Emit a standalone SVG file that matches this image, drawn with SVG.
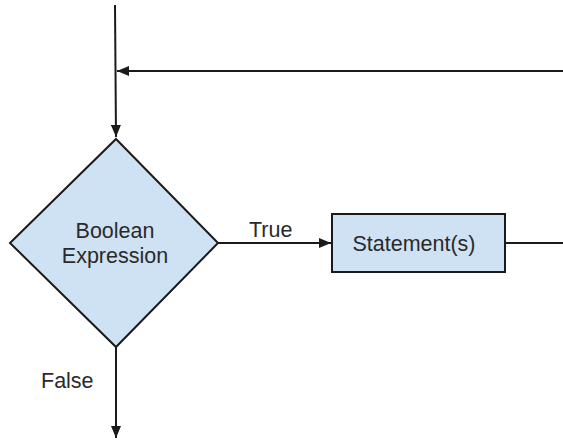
<svg xmlns="http://www.w3.org/2000/svg" width="563" height="442" viewBox="0 0 563 442">
<style>
.shape{fill:#cfe2f3;stroke:#1a1a1a;stroke-width:2}
.line{fill:none;stroke:#1a1a1a;stroke-width:2}
text{font-family:"Liberation Sans",Arial,sans-serif;font-size:21.5px;fill:#2a2a2a}
</style>
<defs>
<marker id="arr" viewBox="0 0 12 10" refX="12" refY="5" markerWidth="12" markerHeight="10" markerUnits="userSpaceOnUse" orient="auto">
<path d="M0,0 L12,5 L0,10 Z" fill="#1a1a1a"/>
</marker>
</defs>
<g id="connectors">
<path class="line" d="M115,5 L116,137" marker-end="url(#arr)"/>
<path class="line" d="M563,71 L117,71" marker-end="url(#arr)"/>
<path class="line" d="M218,243 L331,243" marker-end="url(#arr)"/>
<path class="line" d="M505,243 L563,243"/>
<path class="line" d="M116,347 L116,438" marker-end="url(#arr)"/>
<text x="249" y="237">True</text>
<text x="41" y="388">False</text>
</g>
<g id="decision">
<polygon class="shape" points="116,139 218,243 116,347 10,243"/>
<text x="115" y="238" text-anchor="middle">Boolean</text>
<text x="115" y="263" text-anchor="middle">Expression</text>
</g>
<g id="statement">
<rect class="shape" x="332" y="214" width="173" height="58"/>
<text x="414" y="251" text-anchor="middle">Statement(s)</text>
</g>
</svg>
